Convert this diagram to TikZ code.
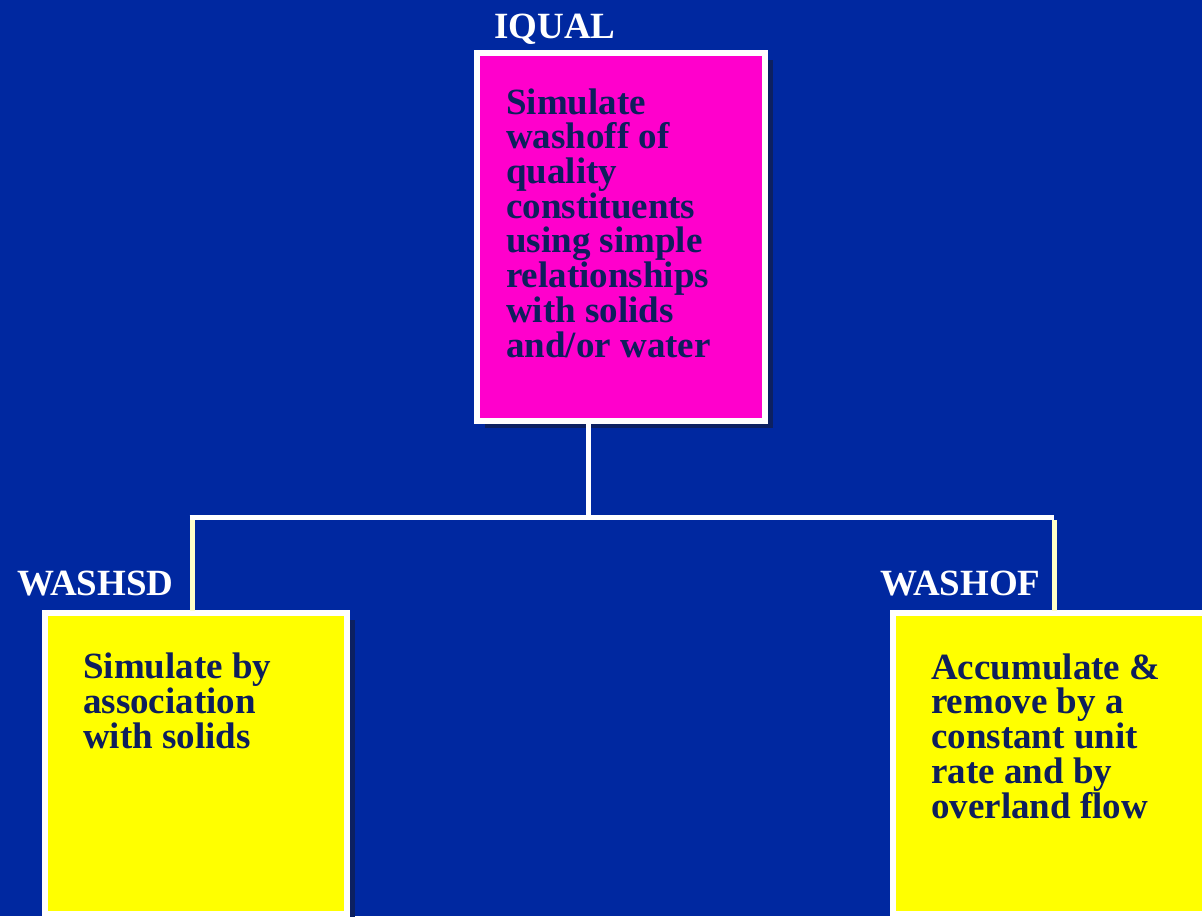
\documentclass[tikz,border=0pt]{standalone}
\usepackage{fontspec}
\setmainfont{Liberation Serif}
\usetikzlibrary{shadows}

\definecolor{slideblue}{HTML}{0028A0}
\definecolor{inknavy}{HTML}{0E1E5C}
\definecolor{shadenavy}{HTML}{0C2060}
\definecolor{boxpink}{HTML}{FF00CC}
\definecolor{boxyellow}{HTML}{FFFF00}
\definecolor{paleyellow}{HTML}{FFFFC8}

\tikzset{
  modbox/.style={draw=white, line width=6pt, inner sep=0pt,
    drop shadow={shadow xshift=8pt, shadow yshift=-7pt, fill=shadenavy, opacity=1}},
  % base of these is the last line
  boxtext/.style={anchor=base west, inner sep=0pt, align=left, text=inknavy,
    font=\bfseries\fontsize{37}{34.7}\selectfont},
  modname/.style={anchor=base west, inner sep=0pt, text=white,
    font=\bfseries\fontsize{37}{37}\selectfont},
  trunk/.style={white, line width=5pt},
  branch/.style={paleyellow, line width=5pt}
}

\begin{document}
\begin{tikzpicture}[x=1pt,y=-1pt]
\clip (0,0) rectangle (1202,916);
\fill[slideblue] (0,0) rectangle (1202,916);

% boxes
\node[modbox, fill=boxpink, minimum width=288pt, minimum height=368pt] (iqual) at (621,237) {};
\node[modbox, fill=boxyellow, minimum width=302pt, minimum height=301pt] (washsd) at (196,763.5) {};
\node[modbox, fill=boxyellow, minimum width=330pt, minimum height=301pt] (washof) at (1058,763.5) {};

% module names
\node[modname] (iqualname) at (494,38) {IQUAL};
\node[modname] (washsdname) at (17,595) {WASHSD};
\node[modname] (washofname) at (880,595) {WASHOF};

% texts
\node[boxtext] (iqualtext) at (506,357) {Simulate\\washoff of\\quality\\constituents\\using simple\\relationships\\with solids\\and/or water};
\node[boxtext] (washsdtext) at (83,748) {Simulate by\\association\\with solids};
\node[boxtext] (washoftext) at (931,818) {Accumulate \&\\remove by a\\constant unit\\rate and by\\overland flow};

% tree lines
\coordinate (hub) at (588.5,517.5);
\coordinate (leftend) at (192,517.5);
\coordinate (rightend) at (1054.5,517.5);
\draw[trunk] (iqual.south -| hub) -- (hub);
\draw[trunk] ([xshift=-2.5pt]leftend) -- ([xshift=-1pt]rightend);
\draw[branch] ([yshift=-2.5pt]leftend) -- ([yshift=-1pt]leftend |- washsd.north);
\draw[branch] ([yshift=-2.5pt]rightend) -- ([yshift=-1pt]rightend |- washof.north);
\end{tikzpicture}
\end{document}
